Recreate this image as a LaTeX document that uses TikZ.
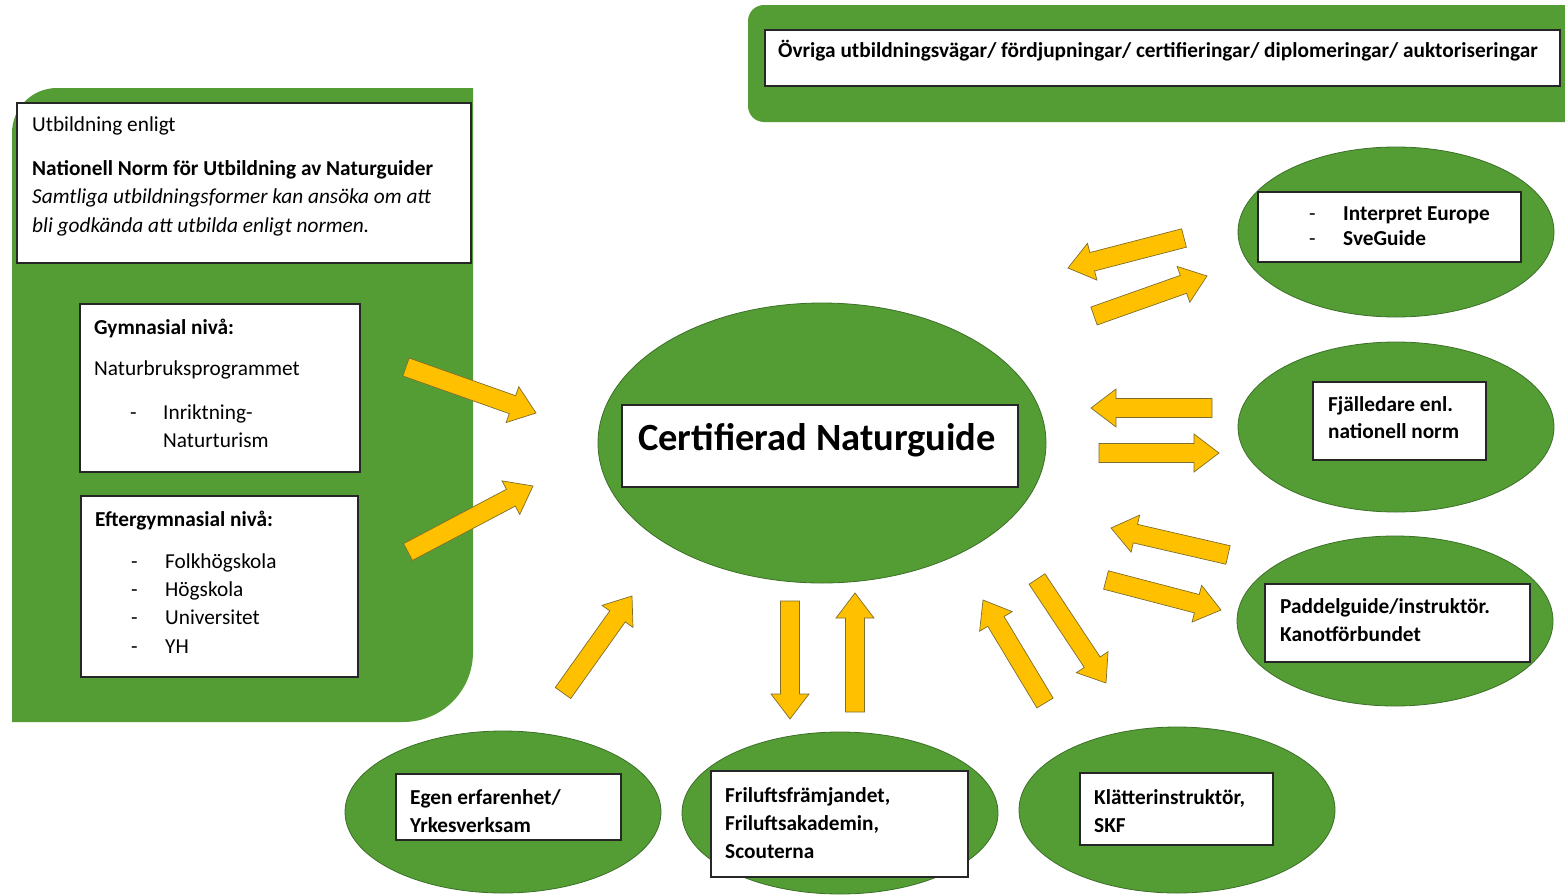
\documentclass[tikz,border=0pt]{standalone}
\usepackage{fontspec}
\setmainfont{Carlito}
\usetikzlibrary{calc,shapes.geometric}
\definecolor{grn}{RGB}{84,157,52}
\definecolor{grnd}{RGB}{60,112,40}
\definecolor{ylw}{RGB}{255,192,0}
\definecolor{ylwd}{RGB}{125,110,45}
\newcommand{\blockarrow}[2]{%
  \coordinate (bA) at ($(#2)!25pt!(#1)$);
  \draw[barrow] ($(#1)!9.5pt!90:(#2)$) -- ($(bA)!9.5pt!90:(#2)$) -- ($(bA)!19pt!90:(#2)$) -- (#2)
    -- ($(bA)!19pt!-90:(#2)$) -- ($(bA)!9.5pt!-90:(#2)$) -- ($(#1)!9.5pt!-90:(#2)$) -- cycle;}
\begin{document}
\begin{tikzpicture}[x=1pt,y=-1pt,
  wbox/.style={draw=black!85, line width=1.2pt, fill=white, inner sep=0pt, rectangle},
  gell/.style={ellipse, draw=grnd, line width=0.8pt, fill=grn, inner sep=0pt},
  barrow/.style={fill=ylw, draw=ylwd, line width=0.7pt, line join=miter},
  txt/.style={anchor=west, inner sep=0pt, yshift=-2.5pt, text height=14pt, text depth=4pt, font=\fontsize{21.3}{25}\selectfont},
  btxt/.style={txt, font=\fontsize{21.3}{25}\selectfont\bfseries},
  itxt/.style={txt, font=\fontsize{21.3}{25}\selectfont\itshape}]
\useasboundingbox (0,0) rectangle (1565,894);
\fill[white] (0,0) rectangle (1565,894);

% left panel
\fill[grn] (12,722) -- (12,133) .. controls (12,108) and (32,88) .. (57,88) -- (473,88) -- (473,652)
  .. controls (473,691) and (442,722) .. (403,722) -- cycle;
\node[wbox, minimum width=454pt, minimum height=160pt] (hdr) at (244,183) {};
\node[txt]  (h1) at (32,124) {Utbildning enligt};
\node[btxt] (h2) at (32,168) {Nationell Norm för Utbildning av Naturguider};
\node[itxt] (h3) at (32,196) {Samtliga utbildningsformer kan ansöka om att};
\node[itxt] (h4) at (32,225) {bli godkända att utbilda enligt normen.};

\node[wbox, minimum width=280pt, minimum height=168pt] (gym) at (220,388) {};
\node[btxt] (g1) at (94,327) {Gymnasial nivå:};
\node[txt]  (g2) at (94,368) {Naturbruksprogrammet};
\node[txt]  (g3d) at (130,412) {-};
\node[txt]  (g3) at (163,412) {Inriktning-};
\node[txt]  (g4) at (163,440) {Naturturism};

\node[wbox, minimum width=277pt, minimum height=181pt] (eft) at (219.5,586.5) {};
\node[btxt] (e1) at (95,519) {Eftergymnasial nivå:};
\node[txt] (e2d) at (131,561) {-};
\node[txt] (e2) at (165,561) {Folkhögskola};
\node[txt] (e3d) at (131,589) {-};
\node[txt] (e3) at (165,589) {Högskola};
\node[txt] (e4d) at (131,617) {-};
\node[txt] (e4) at (165,617) {Universitet};
\node[txt] (e5d) at (131,646) {-};
\node[txt] (e5) at (165,646) {YH};

% top panel
\fill[grn, rounded corners=16pt] (748,5) rectangle (1600,122);
\node[wbox, minimum width=795pt, minimum height=56pt] (top) at (1162.5,58) {};
\node[btxt] (t1) at (778,50) {Övriga utbildningsvägar/ fördjupningar/ certifieringar/ diplomeringar/ auktoriseringar};

% center
\node[gell, minimum width=448pt, minimum height=280pt] (certE) at (822,443) {};
\node[wbox, minimum width=396pt, minimum height=82pt] (certB) at (820,446) {};
\node[inner sep=0pt, font=\fontsize{38.5}{44}\selectfont\bfseries] (cert) at (817,440) {Certifierad Naturguide};

% right ellipses
\node[gell, minimum width=316pt, minimum height=170pt] (ieE) at (1396,232) {};
\node[wbox, minimum width=263pt, minimum height=70pt] (ieB) at (1389.5,227) {};
\node[txt] (ie1d) at (1309,213) {-};
\node[btxt] (ie1) at (1343,213) {Interpret Europe};
\node[txt] (ie2d) at (1309,238) {-};
\node[btxt] (ie2) at (1343,238) {SveGuide};

\node[gell, minimum width=316pt, minimum height=170pt] (fjE) at (1396,427) {};
\node[wbox, minimum width=173pt, minimum height=78pt] (fjB) at (1399.5,421) {};
\node[btxt] (fj1) at (1328,404) {Fjälledare enl.};
\node[btxt] (fj2) at (1328,431) {nationell norm};

\node[gell, minimum width=316pt, minimum height=170pt] (paE) at (1395,621) {};
\node[wbox, minimum width=265pt, minimum height=78pt] (paB) at (1397.5,623) {};
\node[btxt] (pa1) at (1280,606) {Paddelguide/instruktör.};
\node[btxt] (pa2) at (1280,634) {Kanotförbundet};

% bottom ellipses
\node[gell, minimum width=316pt, minimum height=162pt] (egE) at (503,812) {};
\node[wbox, minimum width=225pt, minimum height=66pt] (egB) at (508.5,807) {};
\node[btxt] (eg1) at (410,797) {Egen erfarenhet/};
\node[btxt] (eg2) at (410,825) {Yrkesverksam};

\node[gell, minimum width=316pt, minimum height=162pt] (frE) at (840,813) {};
\node[wbox, minimum width=257pt, minimum height=106pt] (frB) at (839.5,824) {};
\node[btxt] (fr1) at (725,795) {Friluftsfrämjandet,};
\node[btxt] (fr2) at (725,823) {Friluftsakademin,};
\node[btxt] (fr3) at (725,851) {Scouterna};

\node[gell, minimum width=316pt, minimum height=166pt] (klE) at (1177,810) {};
\node[wbox, minimum width=193pt, minimum height=72pt] (klB) at (1176.5,809) {};
\node[btxt] (kl1) at (1094,797) {Klätterinstruktör,};
\node[btxt] (kl2) at (1094,825) {SKF};

% arrows
\coordinate (a1s) at (406,367);  \coordinate (a1e) at (536,413);
\coordinate (a2s) at (408,552);  \coordinate (a2e) at (533,486);
\coordinate (a3s) at (563,693);  \coordinate (a3e) at (632,596);
\coordinate (a4s) at (790,601);  \coordinate (a4e) at (790,719);
\coordinate (a5s) at (855,712);  \coordinate (a5e) at (855,593);
\coordinate (a6s) at (1045,703); \coordinate (a6e) at (983,600);
\coordinate (a7s) at (1037,579); \coordinate (a7e) at (1106,683);
\coordinate (a8s) at (1228,555); \coordinate (a8e) at (1111,528);
\coordinate (a9s) at (1106,580); \coordinate (a9e) at (1221,610);
\coordinate (a10s) at (1212,408); \coordinate (a10e) at (1091,408);
\coordinate (a11s) at (1099,453); \coordinate (a11e) at (1219,453);
\coordinate (a12s) at (1184,238); \coordinate (a12e) at (1068,268);
\coordinate (a13s) at (1094,316); \coordinate (a13e) at (1207,276);
\blockarrow{a1s}{a1e}
\blockarrow{a2s}{a2e}
\blockarrow{a3s}{a3e}
\blockarrow{a4s}{a4e}
\blockarrow{a5s}{a5e}
\blockarrow{a6s}{a6e}
\blockarrow{a7s}{a7e}
\blockarrow{a8s}{a8e}
\blockarrow{a9s}{a9e}
\blockarrow{a10s}{a10e}
\blockarrow{a11s}{a11e}
\blockarrow{a12s}{a12e}
\blockarrow{a13s}{a13e}
\end{tikzpicture}
\end{document}
